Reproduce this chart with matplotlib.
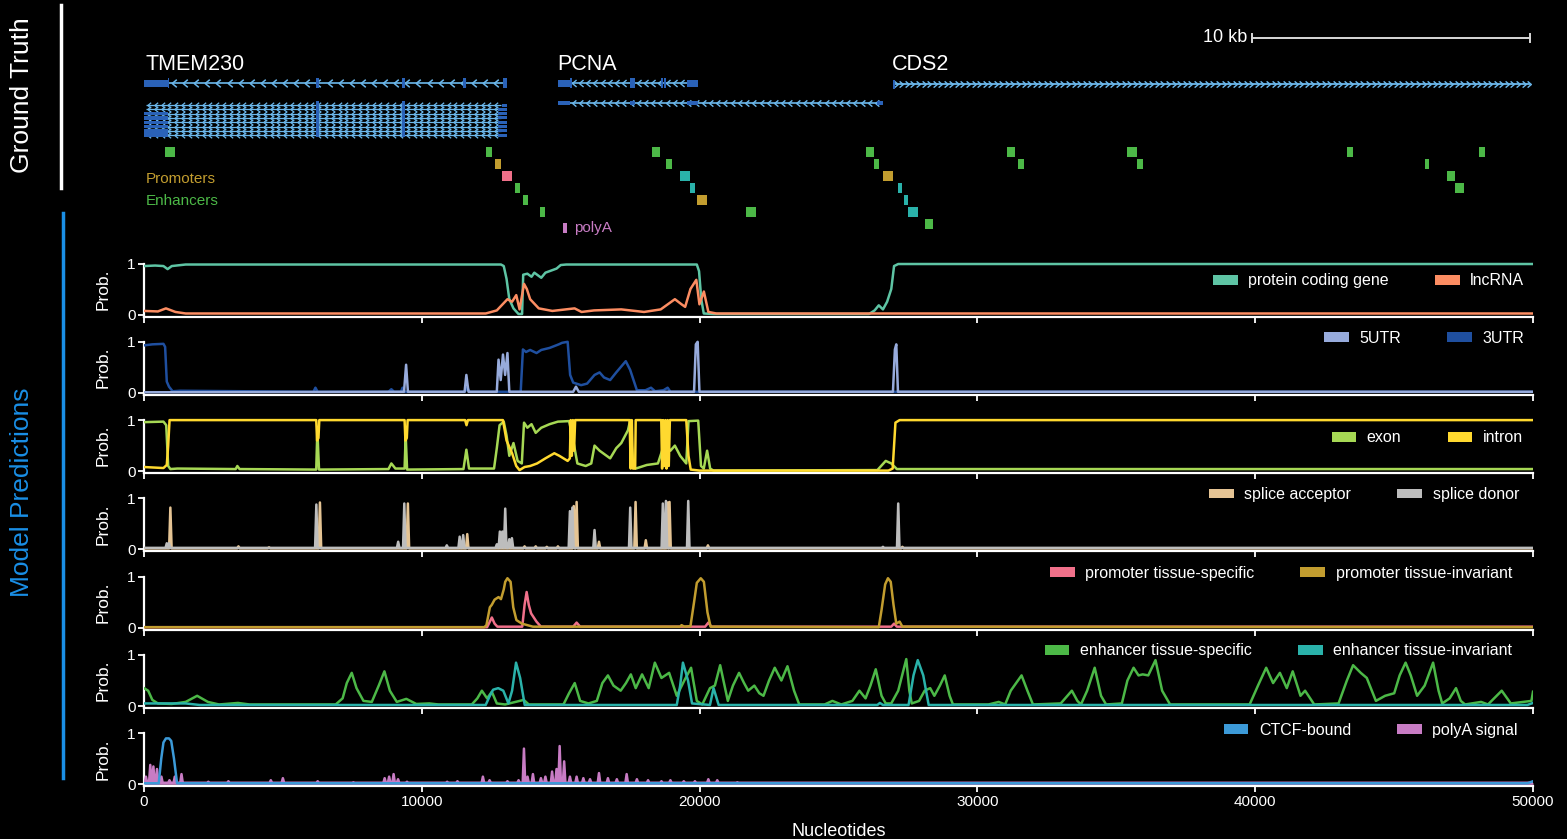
import numpy as np
import matplotlib
matplotlib.use("Agg")
import matplotlib.pyplot as plt
from matplotlib.patches import Patch, Rectangle
from matplotlib.lines import Line2D
from matplotlib.path import Path

plt.rcParams['font.family'] = ['Liberation Sans', 'DejaVu Sans']

W, H = 1567, 839
XMAX = 50000
XTICKS = [0, 10000, 20000, 30000, 40000, 50000]

# ---------------------------------------------------------------- annotation
# gene models (nucleotide coordinates)
tmem230_name = "TMEM230"
tmem230_start, tmem230_end = 0, 13050
tmem230_utr = (0, 880)
tmem230_exons = [6250, 9350, 11540, 13000]
tmem230_iso_rows = 8

pcna_name = "PCNA"
pcna_start, pcna_end = 14900, 19950
pcna_long_end = 26600
pcna_blocks = [(14900, 15340), (17500, 17680), (19540, 19950)]
pcna_ticks = [15380, 18640, 18760]

cds2_name = "CDS2"
cds2_start, cds2_end = 26960, 49900

# regulatory elements: (start, end, row)
enhancer_sites = [(760, 1120, 0), (12310, 12530, 0), (13340, 13520, 3), (13660, 13840, 4),
                  (14240, 14420, 5), (18300, 18560, 0), (18790, 19010, 1), (21670, 22030, 5),
                  (26000, 26260, 0), (26260, 26440, 1), (28130, 28390, 6), (31060, 31360, 0),
                  (31460, 31680, 1), (35390, 35750, 0), (35750, 35970, 1), (43310, 43530, 0),
                  (46120, 46260, 1), (46920, 47180, 2), (47180, 47500, 3), (48060, 48280, 0)]
promoter_inv_sites = [(12630, 12850, 1), (19910, 20270, 4), (26600, 26960, 2)]
promoter_ts_sites = [(12890, 13250, 2)]
enhancer_inv_sites = [(19300, 19660, 2), (19640, 19820, 3), (27150, 27290, 3),
                      (27360, 27500, 4), (27500, 27860, 5)]
polya_sites = [(15080, 15220, 6.33)]

scale_bar_start, scale_bar_len = 39900, 10000

# ---------------------------------------------------------------- predictions
pc_x = [0, 400, 700, 850, 1000, 1500, 12850, 12950, 13050, 13150, 13300, 13480, 13610, 13650,
        13800, 13950, 14050, 14150, 14300, 14450, 14650, 14850, 15000, 15200, 19900, 19980,
        20060, 20150, 20500, 26100, 26300, 26450, 26600, 26750, 26900, 27000, 27150, 50000]
pc_y = [0.95, 0.96, 0.95, 0.89, 0.95, 0.98, 0.98, 0.95, 0.70, 0.30, 0.12, 0.01, 0.01, 0.78,
        0.80, 0.74, 0.82, 0.78, 0.72, 0.82, 0.86, 0.90, 0.97, 0.98, 0.98, 0.85,
        0.30, 0.02, 0.01, 0.01, 0.08, 0.18, 0.10, 0.25, 0.50, 0.95, 0.99, 0.99]

lnc_x = [0, 500, 790, 1130, 1500, 12300, 12700, 13083, 13250, 13400, 13520, 13680, 13780,
         13900, 14210, 14700, 15500, 15750, 16200, 17180, 18000, 18600, 19110, 19350, 19480,
         19671, 19881, 19994, 20154, 20315, 20600, 50000]
lnc_y = [0.07, 0.06, 0.12, 0.05, 0.02, 0.02, 0.08, 0.30, 0.25, 0.38, 0.10, 0.60, 0.50,
         0.30, 0.12, 0.07, 0.12, 0.05, 0.08, 0.10, 0.05, 0.10, 0.30, 0.20, 0.15,
         0.50, 0.68, 0.20, 0.45, 0.05, 0.02, 0.02]

utr3_x = [0, 300, 700, 760, 820, 900, 1030, 1300, 6100, 6171, 6250, 8800, 8904, 9000, 9250, 9306,
          9380, 11550, 11636, 11720, 13560, 13640, 13750, 13900, 14130, 14300, 14600, 14930,
          15050, 15250, 15340, 15450, 15735, 15950, 16218, 16400, 16560, 16780, 17000, 17342,
          17500, 17743, 18050, 18250, 18400, 18700, 18850, 18950, 50000]
utr3_y = [0.93, 0.95, 0.96, 0.90, 0.22, 0.12, 0.03, 0.04, 0.02, 0.10, 0.02, 0.02, 0.07, 0.02, 0.02, 0.10,
          0.02, 0.02, 0.10, 0.02, 0.02, 0.85, 0.80, 0.84, 0.78, 0.84, 0.88, 0.95,
          0.98, 1.00, 0.35, 0.20, 0.15, 0.18, 0.35, 0.40, 0.30, 0.25, 0.40, 0.62,
          0.45, 0.05, 0.05, 0.10, 0.03, 0.05, 0.10, 0.02, 0.02]

utr5_x = [0, 9360, 9435, 9500, 11540, 11604, 11680, 12700, 12762, 12840, 12922, 13000, 13083,
          13150, 15450, 15550, 15650, 19800, 19865, 19930, 19994, 26960, 27030, 27080, 27140, 50000]
utr5_y = [0.01, 0.02, 0.55, 0.02, 0.02, 0.35, 0.02, 0.02, 0.65, 0.25, 0.75, 0.35, 0.78,
          0.02, 0.02, 0.12, 0.02, 0.02, 0.95, 1.00, 0.02, 0.02, 0.85, 0.95, 0.02, 0.02]

intron_x = [0, 700, 820, 870, 920, 6200, 6230, 6280, 6310, 9380, 9410, 9460, 9490, 11560, 11610,
            11660, 12920, 13050, 13250, 13400, 13517, 13700, 13900, 14150, 14450, 14770, 14950,
            15250, 15330, 15360, 15400, 15440, 15480, 15520, 17480, 17520, 17560, 17600, 17680,
            17700, 18620, 18650, 18690, 18730, 18770, 18810, 18850, 18890, 18930, 19520, 19600,
            19680, 20000, 26800, 26950, 27050, 27200, 50000]
intron_y = [0.08, 0.06, 0.12, 0.50, 1.00, 1.00, 0.60, 0.65, 1.00, 1.00, 0.60, 0.65, 1.00, 1.00, 0.90,
            1.00, 1.00, 0.60, 0.35, 0.10, 0.02, 0.08, 0.10, 0.15, 0.25, 0.35, 0.30,
            0.20, 0.25, 1.00, 0.30, 1.00, 0.40, 1.00, 1.00, 0.05, 1.00, 0.05, 0.05,
            1.00, 1.00, 0.05, 1.00, 0.10, 1.00, 0.05, 1.00, 0.10, 1.00, 1.00, 0.30,
            0.03, 0.01, 0.01, 0.05, 0.95, 1.00, 1.00]

exon_x = [0, 700, 800, 870, 950, 1200, 3300, 3360, 3440, 6200, 6240, 6300, 8800, 8904, 9050, 9380,
          9420, 9470, 11500, 11604, 11700, 12600, 12700, 12800, 12950, 13050, 13150, 13300, 13450,
          13600, 13680, 13800, 13950, 14100, 14300, 14600, 14900, 15300, 15450, 15600, 15900,
          16100, 16218, 16400, 16780, 17000, 17181, 17421, 17503, 17600, 17700, 18100, 18500,
          18650, 18800, 18950, 19109, 19300, 19520, 19600, 19950, 20050, 20150, 20270, 20380,
          20500, 26400, 26700, 26900, 27100, 50000]
exon_y = [0.96, 0.97, 0.90, 0.10, 0.04, 0.05, 0.04, 0.10, 0.04, 0.03, 0.80, 0.03, 0.04, 0.15, 0.05, 0.05,
          0.70, 0.03, 0.04, 0.42, 0.05, 0.05, 0.45, 0.90, 0.97, 0.70, 0.30, 0.55, 0.20,
          0.15, 0.95, 0.85, 0.92, 0.75, 0.85, 0.92, 0.97, 0.98, 0.60, 0.15, 0.10,
          0.15, 0.50, 0.40, 0.25, 0.45, 0.55, 0.80, 1.00, 0.10, 0.05, 0.12, 0.15,
          0.40, 0.50, 0.40, 0.50, 0.30, 0.15, 0.98, 0.99, 0.10, 0.05, 0.40, 0.05,
          0.01, 0.02, 0.20, 0.15, 0.04, 0.04]

acc_pos = [949, 3400, 4500, 6333, 9499, 11636, 13700, 14100, 14500, 14900, 15470, 15573, 16378,
           17695, 18064, 18850, 18917, 20300, 27300]
acc_h = [0.82, 0.06, 0.04, 0.92, 0.90, 0.30, 0.06, 0.06, 0.05, 0.06, 0.85, 0.93, 0.15,
         0.93, 0.18, 0.92, 0.93, 0.08, 0.05]
don_pos = [820, 900, 6204, 9150, 9370, 10900, 11363, 11490, 12700, 12810, 12900, 13003, 13150,
           13244, 15332, 15420, 16218, 17503, 18676, 18788, 19591, 26600, 27150]
don_h = [0.12, 0.12, 0.88, 0.15, 0.90, 0.08, 0.25, 0.28, 0.10, 0.35, 0.35, 0.80, 0.20,
         0.22, 0.75, 0.82, 0.38, 0.82, 0.90, 0.95, 0.95, 0.05, 0.90]

prom_ti_x = [0, 12250, 12327, 12450, 12521, 12620, 12762, 12850, 12950, 13003, 13083, 13196,
             13292, 13405, 13600, 14000, 19300, 19350, 19450, 19671, 19800, 19900, 20042,
             20154, 20283, 20395, 26450, 26550, 26680, 26780, 26880, 26980, 27080, 27200,
             27300, 50000]
prom_ti_y = [0.01, 0.01, 0.05, 0.40, 0.45, 0.55, 0.60, 0.56, 0.75, 0.90, 0.97, 0.90,
             0.40, 0.15, 0.08, 0.02, 0.02, 0.05, 0.02, 0.03, 0.50, 0.88, 0.97,
             0.90, 0.30, 0.02, 0.01, 0.35, 0.85, 0.97, 0.90, 0.45, 0.08, 0.12,
             0.02, 0.01]

prom_ts_x = [0, 12350, 12450, 12521, 12620, 12720, 13616, 13700, 13774, 13850, 13935, 14127,
             14288, 15450, 15573, 15700, 20200, 20315, 20420, 26900, 27000, 27100, 50000]
prom_ts_y = [0.01, 0.01, 0.12, 0.20, 0.08, 0.02, 0.02, 0.45, 0.70, 0.45, 0.28, 0.12,
             0.02, 0.02, 0.10, 0.02, 0.02, 0.10, 0.02, 0.02, 0.08, 0.02, 0.02]

enh_ts_x = [0, 150, 300, 500, 1000, 1500, 1913, 2300, 2700, 3383, 3800, 6900, 7150, 7300, 7478,
            7650, 7900, 8200, 8450, 8654, 8850, 9100, 9444, 9800, 10270, 10600, 11800, 12000,
            12162, 12350, 12520, 12700, 13000, 13670, 13850, 15100, 15300, 15505, 15700, 16000,
            16300, 16500, 16700, 16900, 17158, 17350, 17525, 17700, 17929, 18168, 18389, 18627,
            18903, 19178, 19450, 19693, 19900, 20097, 20373, 20550, 20740, 21016, 21200, 21420,
            21600, 21750, 21970, 22150, 22300, 22500, 22705, 22944, 23163, 23400, 23587, 24500,
            24780, 25100, 25500, 25753, 25974, 26150, 26341, 26550, 26700, 26898, 27150, 27440,
            27550, 27637, 27900, 28100, 28300, 28450, 28650, 28824, 29000, 29120, 30400, 30766,
            31000, 31200, 31590, 31800, 32000, 33000, 33400, 33600, 33728, 33950, 34222, 34450,
            34632, 35200, 35400, 35622, 35800, 35950, 36150, 36411, 36650, 36936, 39800, 40100,
            40396, 40644, 40889, 41137, 41350, 41630, 41796, 42124, 43000, 43300, 43524, 43800,
            44017, 44345, 44676, 45004, 45200, 45414, 45600, 45828, 46100, 46404, 46600, 46732,
            47000, 47228, 47400, 47556, 48132, 48380, 48874, 49201, 49943, 50000]
enh_ts_y = [0.35, 0.30, 0.12, 0.05, 0.04, 0.08, 0.20, 0.08, 0.03, 0.06, 0.03, 0.03, 0.15, 0.45, 0.65,
            0.35, 0.10, 0.08, 0.40, 0.68, 0.30, 0.08, 0.14, 0.04, 0.05, 0.03, 0.03, 0.15,
            0.30, 0.15, 0.28, 0.05, 0.03, 0.12, 0.03, 0.03, 0.25, 0.45, 0.10, 0.05,
            0.10, 0.45, 0.60, 0.40, 0.30, 0.45, 0.62, 0.35, 0.62, 0.35, 0.85, 0.55,
            0.65, 0.20, 0.50, 0.75, 0.10, 0.03, 0.35, 0.40, 0.80, 0.10, 0.40, 0.65,
            0.45, 0.30, 0.40, 0.25, 0.20, 0.50, 0.75, 0.50, 0.78, 0.30, 0.03, 0.03,
            0.10, 0.03, 0.10, 0.30, 0.15, 0.40, 0.72, 0.20, 0.05, 0.05, 0.30, 0.92,
            0.30, 0.05, 0.10, 0.30, 0.35, 0.20, 0.40, 0.60, 0.20, 0.03, 0.03, 0.08,
            0.03, 0.30, 0.60, 0.30, 0.03, 0.05, 0.30, 0.10, 0.03, 0.30, 0.75, 0.20,
            0.03, 0.05, 0.50, 0.75, 0.60, 0.62, 0.60, 0.90, 0.30, 0.03, 0.03, 0.40,
            0.75, 0.45, 0.65, 0.35, 0.68, 0.20, 0.30, 0.03, 0.05, 0.50, 0.80, 0.65,
            0.55, 0.10, 0.20, 0.25, 0.60, 0.85, 0.60, 0.20, 0.40, 0.85, 0.30, 0.05,
            0.15, 0.35, 0.10, 0.03, 0.08, 0.03, 0.30, 0.05, 0.10, 0.28]

enh_inv_x = [0, 1500, 2000, 12300, 12450, 12567, 12751, 12934, 13118, 13250, 13392, 13540, 13705,
             19178, 19300, 19400, 19583, 19728, 20373, 20502, 20686, 26400, 26490, 26600, 27522,
             27700, 27853, 28051, 28246, 49800, 50000]
enh_inv_y = [0.05, 0.05, 0.02, 0.02, 0.20, 0.32, 0.35, 0.30, 0.05, 0.30, 0.85, 0.55, 0.02,
             0.02, 0.40, 0.85, 0.50, 0.05, 0.02, 0.35, 0.02, 0.02, 0.06, 0.02, 0.02,
             0.60, 0.90, 0.60, 0.02, 0.02, 0.06]

ctcf_x = [0, 530, 620, 700, 790, 900, 980, 1080, 1190, 49800, 50000]
ctcf_y = [0.02, 0.02, 0.50, 0.82, 0.90, 0.90, 0.85, 0.50, 0.02, 0.02, 0.06]

polya_pos = [70, 226, 338, 467, 627, 917, 1109, 1350, 2315, 3038, 4565, 4999, 6252, 7538, 8663,
             8824, 8985, 9145, 9467, 10913, 11283, 12199, 12440, 13083, 13484, 13677, 13806,
             14000, 14288, 14449, 14690, 14850, 14962, 15124, 15332, 15573, 15815, 16056, 16378,
             16700, 17021, 17374, 17743, 18145, 18627, 18949, 19431, 19832, 20315, 20636, 21360,
             22163]
polya_h = [0.15, 0.38, 0.35, 0.30, 0.15, 0.08, 0.15, 0.20, 0.05, 0.06, 0.08, 0.12, 0.06, 0.04, 0.12,
           0.15, 0.20, 0.10, 0.05, 0.05, 0.06, 0.15, 0.08, 0.06, 0.08, 0.70, 0.15,
           0.20, 0.12, 0.15, 0.25, 0.30, 0.75, 0.45, 0.15, 0.15, 0.12, 0.10, 0.22,
           0.12, 0.10, 0.20, 0.10, 0.08, 0.06, 0.08, 0.06, 0.06, 0.10, 0.08, 0.04,
           0.03]

# ---------------------------------------------------------------- colours
C = dict(pc='#5ec4a4', lnc='#fc8d62', utr5='#97abdc', utr3='#1f4f9f', exon='#a6d854',
         intron='#ffd92f', acc='#e5c494', don='#bdbdbd', prom_ts='#f0708a', prom_ti='#c29d2f',
         enh_ts='#4cb847', enh_ti='#2ab2aa', ctcf='#3c9ad8', polya='#c87cc4')
GENE_DARK = '#2a62b8'
GENE_LIGHT = '#6cb8ec'

# open chevron markers for strand direction
CHEV_LEFT = Path([(0.6, 1.0), (-0.6, 0.0), (0.6, -1.0)],
                 [Path.MOVETO, Path.LINETO, Path.LINETO])
CHEV_RIGHT = Path([(-0.6, 1.0), (0.6, 0.0), (-0.6, -1.0)],
                  [Path.MOVETO, Path.LINETO, Path.LINETO])


def spike_series(pos, h, base=0.02, half=45):
    xs, ys = [0], [base]
    for p, v in sorted(zip(pos, h)):
        xs += [p - half, p, p + half]
        ys += [base, v, base]
    xs.append(XMAX)
    ys.append(base)
    return xs, ys


fig = plt.figure(figsize=(W / 100, H / 100), dpi=100, facecolor='black')

# ---------------------------------------------------------------- side labels
fig.text(22 / W, 1 - 95 / H, 'Ground Truth', rotation=90, color='white', fontsize=19,
         ha='center', va='center')
fig.text(22 / W, 1 - 492 / H, 'Model Predictions', rotation=90, color='#1a8fe6', fontsize=19,
         ha='center', va='center')
fig.add_artist(Line2D([61 / W, 61 / W], [1 - 5 / H, 1 - 188 / H], color='white', lw=2.5))
fig.add_artist(Line2D([63 / W, 63 / W], [1 - 213 / H, 1 - 778 / H], color='#1a8fe6', lw=2.5))

# ---------------------------------------------------------------- annotation track
gt = fig.add_axes([144 / W, 1 - 240 / H, 1389 / W, 240 / H])
gt.set_xlim(0, XMAX)
gt.set_ylim(240, 0)
gt.axis('off')
gt.patch.set_alpha(0)


def block(x0, x1, y, h, color=GENE_DARK, z=3):
    gt.add_patch(Rectangle((x0, y - h / 2), x1 - x0, h, color=color, lw=0, zorder=z))


def chevrons(x0, x1, y, step, marker, ms=5.0, lw=1.0, mew=1.0):
    gt.plot([x0, x1], [y, y], color=GENE_LIGHT, lw=lw, solid_capstyle='butt', zorder=2)
    xs = np.arange(x0 + step / 2, x1, step)
    gt.plot(xs, np.full_like(xs, y, dtype=float), ls='none', marker=marker, ms=ms,
            mfc='none', mec=GENE_LIGHT, mew=mew, zorder=2)


# TMEM230
gt.text(tmem230_start + 70, 65, tmem230_name, color='white', fontsize=15.5, va='center', ha='left')
chevrons(tmem230_utr[1], tmem230_exons[-1], 83, 400, CHEV_LEFT, ms=5.5, lw=1.2, mew=1.1)
block(*tmem230_utr, 83, 7)
block(tmem230_utr[1] - 30, tmem230_utr[1] + 30, 83, 10)
for e in tmem230_exons:
    block(e - 60, e + 60, 83, 10)
for i in range(tmem230_iso_rows):
    y = 105 + 4.3 * i
    chevrons(60, 12850, y, 245, CHEV_LEFT, ms=4.0, lw=0.9, mew=0.9)
    if i >= 2:
        block(tmem230_utr[0], tmem230_utr[1], y, 3.4)
    block(12750 if i else 12880, tmem230_end, y, 3.0)
for e in tmem230_exons[:2]:
    block(e - 45, e + 45, 104 + 4.3 * (tmem230_iso_rows - 1) / 2, 4.3 * tmem230_iso_rows + 1)

# PCNA
gt.text(pcna_start - 30, 65, pcna_name, color='white', fontsize=15.5, va='center', ha='left')
chevrons(pcna_blocks[0][1], pcna_blocks[-1][0], 83, 260, CHEV_LEFT, ms=5.0, lw=1.2, mew=1.0)
for a, b in pcna_blocks:
    block(a, b, 83, 7 if b - a > 250 else 10)
for t in pcna_ticks:
    block(t - 35, t + 35, 83, 10)
chevrons(pcna_blocks[0][1], pcna_long_end - 200, 103, 260, CHEV_LEFT, ms=4.5, lw=1.2, mew=1.0)
for a, b in pcna_blocks:
    block(a, b, 103, 3.8)
block(pcna_long_end - 200, pcna_long_end, 103, 3.8)

# CDS2
gt.text(cds2_start - 30, 65, cds2_name, color='white', fontsize=15.5, va='center', ha='left')
chevrons(cds2_start, cds2_end, 84, 200, CHEV_RIGHT, ms=4.5, lw=1.3, mew=1.0)
block(cds2_start, cds2_start + 80, 84, 9)

# regulatory elements
for sites, col in [(enhancer_sites, C['enh_ts']), (promoter_inv_sites, C['prom_ti']),
                   (promoter_ts_sites, C['prom_ts']), (enhancer_inv_sites, C['enh_ti']),
                   (polya_sites, C['polya'])]:
    for a, b, r in sites:
        block(a, b, 152 + 12 * r, 10, color=col)
gt.text(70, 179, 'Promoters', color=C['prom_ti'], fontsize=11, va='center', ha='left')
gt.text(70, 201, 'Enhancers', color=C['enh_ts'], fontsize=11, va='center', ha='left')
gt.text(polya_sites[0][1] + 250, 228, 'polyA', color=C['polya'], fontsize=11, va='center', ha='left')

# scale bar
sb0, sb1 = scale_bar_start, scale_bar_start + scale_bar_len
gt.plot([sb0, sb1], [38, 38], color='#d8d8d8', lw=1.4)
gt.plot([sb0, sb0], [34, 42], color='#d8d8d8', lw=1.4)
gt.plot([sb1, sb1], [34, 42], color='#d8d8d8', lw=1.4)
gt.text(sb0 - 180, 38, '10 kb', color='white', fontsize=13, va='center', ha='right')

# ---------------------------------------------------------------- prediction panels
YLO, YHI = -0.04, 1.10
UNIT = 51.0

panels = [
    [('protein coding gene', C['pc'], (pc_x, pc_y)), ('lncRNA', C['lnc'], (lnc_x, lnc_y))],
    [('5UTR', C['utr5'], (utr5_x, utr5_y)), ('3UTR', C['utr3'], (utr3_x, utr3_y))],
    [('exon', C['exon'], (exon_x, exon_y)), ('intron', C['intron'], (intron_x, intron_y))],
    [('splice acceptor', C['acc'], spike_series(acc_pos, acc_h)),
     ('splice donor', C['don'], spike_series(don_pos, don_h, base=0.03))],
    [('promoter tissue-specific', C['prom_ts'], (prom_ts_x, prom_ts_y)),
     ('promoter tissue-invariant', C['prom_ti'], (prom_ti_x, prom_ti_y))],
    [('enhancer tissue-specific', C['enh_ts'], (enh_ts_x, enh_ts_y)),
     ('enhancer tissue-invariant', C['enh_ti'], (enh_inv_x, enh_inv_y))],
    [('CTCF-bound', C['ctcf'], (ctcf_x, ctcf_y)),
     ('polyA signal', C['polya'], spike_series(polya_pos, polya_h, base=0.03))],
]
# drawing order inside each panel (index into the panel's series list)
draw_order = [[0, 1], [1, 0], [0, 1], [0, 1], [0, 1], [0, 1], [1, 0]]
legend_right_px = [1524, 1524, 1523, 1519, 1512, 1512, 1518]
legend_level = [0.66, 1.07, 0.65, 1.07, 1.07, 1.08, 1.06]

for k, series in enumerate(panels):
    y1 = 263.5 + 78.3 * k
    y0 = y1 + UNIT
    bot = y0 - YLO * UNIT
    top = y1 - (YHI - 1) * UNIT
    ax = fig.add_axes([144 / W, 1 - bot / H, 1389 / W, (bot - top) / H])
    ax.set_facecolor('none')
    ax.set_xlim(0, XMAX)
    ax.set_ylim(YLO, YHI)
    for i in draw_order[k]:
        name, col, (xs, ys) = series[i]
        if name == 'polyA signal':
            ax.fill_between(xs, 0, ys, color=col, lw=0, zorder=2)
        ax.plot(xs, ys, color=col, lw=1.8, solid_joinstyle='round', zorder=3)
    for side in ('top', 'right'):
        ax.spines[side].set_visible(False)
    for side in ('left', 'bottom'):
        ax.spines[side].set_color('white')
        ax.spines[side].set_linewidth(1.6)
    ax.spines['left'].set_bounds(YLO, 1.0)
    ax.set_yticks([0, 1])
    ax.set_yticklabels(['0', '1'])
    ax.set_xticks(XTICKS)
    ax.set_xticklabels([str(t) for t in XTICKS])
    ax.tick_params(colors='white', labelcolor='white', labelsize=11, length=4, width=1.3,
                   direction='out', pad=2)
    if k < len(panels) - 1:
        ax.tick_params(labelbottom=False)
    else:
        ax.set_xlabel('Nucleotides', color='white', fontsize=13, labelpad=10)
    ax.set_ylabel('Prob.', color='white', fontsize=12.5, va='center')
    ax.yaxis.set_label_coords((103 - 144) / 1389, (0.5 - YLO) / (YHI - YLO))
    handles = [Patch(facecolor=col, edgecolor='none', label=name) for name, col, _ in series]
    ax.legend(handles=handles, loc='center right', ncol=2, frameon=False, fontsize=11.5,
              labelcolor='white', handlelength=1.55, handleheight=0.55, handletextpad=0.65,
              columnspacing=2.9, borderpad=0, borderaxespad=0,
              bbox_to_anchor=((legend_right_px[k] - 144) / 1389,
                              (legend_level[k] - YLO) / (YHI - YLO)))

fig.savefig('out.png', dpi=100, facecolor='black')
